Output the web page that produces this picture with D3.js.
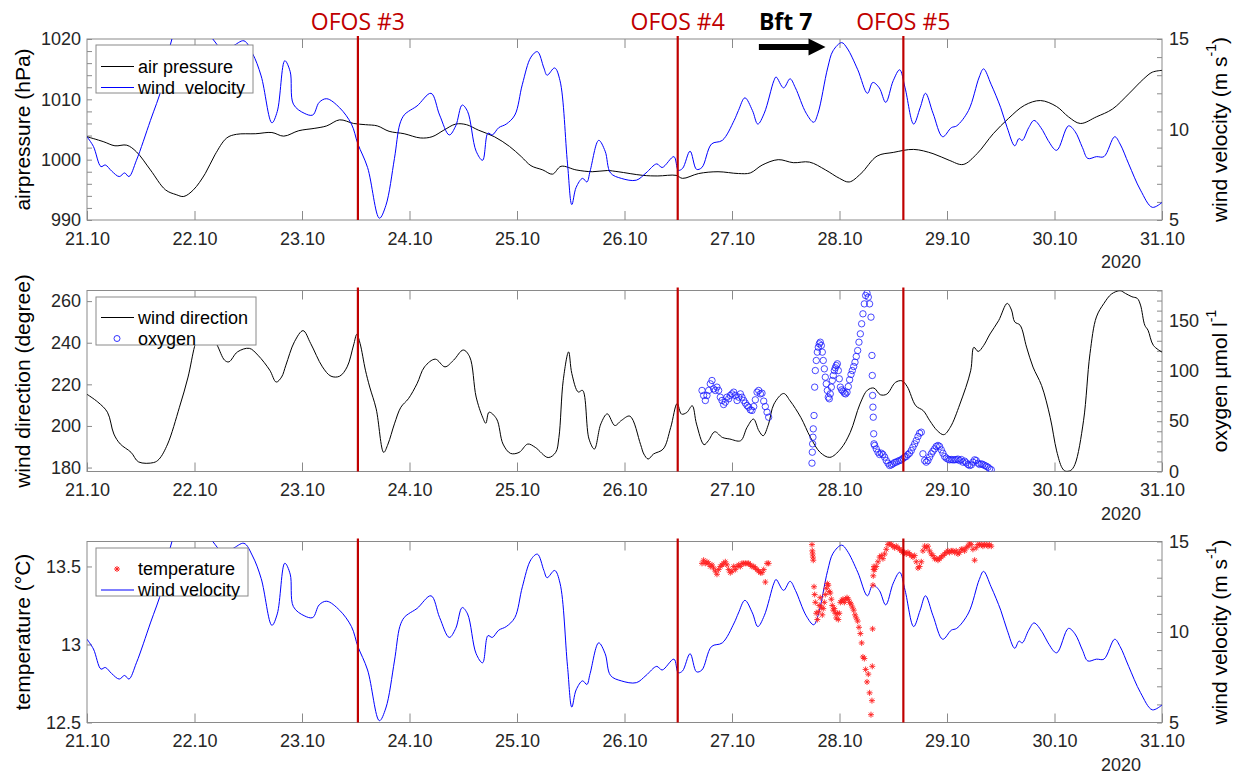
<!DOCTYPE html>
<html>
<head>
<meta charset="utf-8">
<script src="https://cdn.jsdelivr.net/npm/d3@7"></script>
<style>
body { margin: 0; background: #fff; }
</style>
</head>
<body>
<div id="my_viz"></div>
<script>
// x positions are days since 21.10.2020 00:00
const dayLabels = ["21.10", "22.10", "23.10", "24.10", "25.10", "26.10", "27.10", "28.10", "29.10", "30.10", "31.10"]
const ofosDay = [2.52, 5.495, 7.594]
const ofosLabel = ["OFOS #3", "OFOS #4", "OFOS #5"]
const bftDay = [6.25, 6.87]

// [day, hPa]
const airPressure = [[0,1003.8],[0.15,1003.0],[0.26,1002.3],[0.37,1002.4],[0.46,1001.3],[0.59,998.3],[0.73,995.0],[0.83,994.2],[0.90,993.9],[0.99,995.0],[1.10,997.7],[1.19,1000.8],[1.30,1003.6],[1.39,1004.2],[1.57,1004.3],[1.72,1004.5],[1.83,1003.9],[1.97,1004.8],[2.12,1005.2],[2.23,1005.6],[2.35,1006.6],[2.48,1006.0],[2.59,1005.8],[2.70,1005.6],[2.81,1004.7],[2.95,1004.3],[3.10,1003.6],[3.21,1003.8],[3.32,1004.9],[3.43,1005.9],[3.53,1005.8],[3.64,1004.9],[3.79,1003.8],[3.93,1002.2],[4.04,1000.5],[4.13,999.0],[4.24,998.3],[4.33,997.6],[4.41,998.9],[4.55,998.3],[4.70,998.0],[4.84,998.2],[4.94,998.0],[5.17,997.4],[5.31,997.3],[5.48,997.4],[5.54,996.9],[5.69,997.7],[5.87,998.0],[6.06,997.7],[6.17,997.8],[6.28,999.1],[6.43,1000.0],[6.57,999.5],[6.72,999.6],[6.87,998.3],[7.00,996.9],[7.09,996.3],[7.20,997.7],[7.35,1000.6],[7.50,1001.2],[7.69,1001.7],[7.87,1001.0],[8.02,999.9],[8.15,999.2],[8.28,1001.0],[8.43,1004.3],[8.57,1006.8],[8.72,1009.0],[8.87,1009.8],[9.02,1008.8],[9.13,1007.1],[9.24,1006.0],[9.39,1007.1],[9.54,1008.4],[9.69,1010.9],[9.83,1013.4],[9.91,1014.5],[10.0,1014.8]]

// [day, m/s]
const windVelocity = [[0,9.6],[0.06,9.06],[0.13,7.95],[0.17,8.04],[0.23,7.7],[0.30,7.4],[0.35,7.6],[0.39,7.4],[0.46,8.3],[0.59,10.5],[0.70,12.4],[0.79,15.0],[0.95,16.8],[1.17,15.0],[1.25,14.5],[1.35,14.6],[1.46,14.9],[1.54,14.2],[1.62,12.96],[1.72,10.37],[1.77,11.0],[1.84,13.8],[1.89,13.2],[1.92,11.4],[2.02,10.9],[2.10,10.8],[2.16,11.5],[2.23,11.7],[2.35,11.2],[2.46,10.3],[2.52,9.2],[2.61,7.9],[2.72,5.1],[2.78,5.8],[2.86,8.4],[2.91,10.3],[2.95,10.8],[2.99,11.0],[3.07,11.3],[3.20,12.0],[3.28,10.8],[3.37,9.7],[3.43,10.2],[3.49,11.35],[3.54,11.0],[3.62,8.8],[3.68,8.3],[3.73,9.8],[3.77,9.7],[3.83,10.1],[3.90,10.3],[3.98,10.8],[4.05,12.5],[4.13,14.0],[4.19,14.3],[4.25,13.4],[4.28,13.0],[4.35,13.4],[4.40,12.7],[4.47,8.1],[4.51,5.85],[4.55,6.8],[4.61,7.3],[4.65,7.1],[4.68,7.7],[4.76,9.4],[4.82,8.8],[4.87,7.6],[4.97,7.3],[5.11,7.2],[5.20,7.6],[5.30,8.1],[5.35,7.9],[5.46,8.5],[5.50,7.75],[5.54,7.85],[5.61,8.8],[5.67,7.8],[5.72,7.9],[5.81,9.2],[5.91,9.4],[6.02,10.5],[6.06,11.05],[6.12,11.75],[6.19,11.05],[6.24,10.3],[6.30,10.9],[6.39,12.7],[6.41,12.9],[6.48,12.3],[6.54,12.8],[6.59,12.3],[6.69,10.9],[6.76,10.4],[6.80,10.9],[6.89,13.4],[6.94,14.35],[7.02,14.8],[7.07,14.5],[7.17,13.3],[7.26,12.0],[7.31,12.6],[7.37,12.3],[7.43,11.5],[7.50,12.7],[7.56,13.3],[7.61,12.3],[7.69,10.3],[7.75,11.2],[7.80,12.0],[7.87,10.9],[7.96,9.6],[8.04,10.1],[8.09,10.2],[8.20,11.05],[8.30,12.9],[8.34,13.35],[8.41,12.5],[8.50,11.2],[8.56,10.1],[8.63,9.1],[8.67,9.5],[8.70,9.4],[8.76,10.1],[8.81,10.5],[8.89,9.95],[8.94,9.4],[9.02,8.85],[9.13,10.2],[9.19,9.9],[9.26,9.0],[9.31,8.4],[9.39,8.5],[9.46,8.5],[9.56,9.6],[9.61,9.2],[9.69,8.1],[9.80,6.65],[9.91,5.7],[10.0,5.97]]

// [day, degree]
const windDirection = [[0,215.2],[0.10,211.5],[0.19,206.6],[0.25,196.1],[0.31,191.3],[0.41,187.3],[0.48,182.7],[0.62,182.4],[0.67,184.0],[0.75,191.3],[0.86,209.0],[0.94,223.5],[1.00,238.1],[1.03,242.9],[1.08,247],[1.15,244],[1.21,238.9],[1.28,231.6],[1.32,230.8],[1.40,235.6],[1.51,237.3],[1.59,234.0],[1.70,226.8],[1.76,221.1],[1.81,223.5],[1.85,229.2],[1.93,240.5],[2.01,245.8],[2.08,239.7],[2.19,228.4],[2.27,223.9],[2.35,223.9],[2.42,228.4],[2.48,238.9],[2.51,244.0],[2.54,239.7],[2.59,226.8],[2.63,218.7],[2.69,208.2],[2.76,187.3],[2.80,191.3],[2.86,201.0],[2.92,209.0],[2.99,213.1],[3.07,220.3],[3.14,228.4],[3.24,232.1],[3.33,228.4],[3.41,231.6],[3.50,236.5],[3.56,233.2],[3.62,213.9],[3.68,204.2],[3.71,201.3],[3.74,206.6],[3.81,203.4],[3.87,191.3],[3.94,186.8],[4.02,187.3],[4.10,191.3],[4.17,189.7],[4.29,184.8],[4.36,187.3],[4.39,194.5],[4.43,221.9],[4.48,235.6],[4.51,225.2],[4.57,216.3],[4.61,217.1],[4.67,193.7],[4.72,188.9],[4.78,201.0],[4.84,205.8],[4.91,200.2],[4.97,202.6],[5.05,204.7],[5.15,191.0],[5.18,186.5],[5.22,184.1],[5.27,186.5],[5.36,188.9],[5.43,199.3],[5.49,210.8],[5.53,205.7],[5.58,206.5],[5.63,209.7],[5.67,200.9],[5.74,191.0],[5.78,192.9],[5.84,197.2],[5.91,194.5],[5.98,193.7],[6.08,192.9],[6.14,199.3],[6.20,203.3],[6.25,197.7],[6.29,195.3],[6.34,200.9],[6.39,210.5],[6.48,215.6],[6.54,212.1],[6.64,204.1],[6.73,194.5],[6.82,187.3],[6.91,184.9],[7.01,188.9],[7.10,196.9],[7.19,210.5],[7.26,217.2],[7.32,218.2],[7.38,215.0],[7.44,215.3],[7.52,220.9],[7.58,221.7],[7.63,218.9],[7.71,209.7],[7.78,207.3],[7.84,202.5],[7.91,197.7],[7.97,195.8],[8.03,199.3],[8.12,210.5],[8.22,226.5],[8.25,237.8],[8.29,235.8],[8.34,238.6],[8.40,244.2],[8.48,250.6],[8.56,258.9],[8.60,255.7],[8.63,250.0],[8.68,248.4],[8.74,237.9],[8.80,228.3],[8.88,219.4],[8.96,204.1],[9.02,188.0],[9.07,179.9],[9.10,178.3],[9.15,178.6],[9.19,181.5],[9.27,202.5],[9.33,234.7],[9.39,252.4],[9.46,258.9],[9.53,263.4],[9.61,265.0],[9.66,263.7],[9.72,262.1],[9.77,261.3],[9.80,258.1],[9.84,248.4],[9.87,246.0],[9.92,238.7],[10.0,235.5]]

// OFOS sensor samples: [day, oxygen µmol/l, temperature °C]
const sensorSamples = [
[5.721,80.6,13.52],[5.736,75.6,13.54],[5.752,70.6,13.52],[5.767,75.6,13.53],[5.783,80.6,13.52],[5.798,87.2,13.50],[5.814,90.5,13.51],[5.829,82.2,13.49],[5.845,80.6,13.47],[5.860,83.9,13.45],[5.876,80.6,13.48],[5.891,73.9,13.50],[5.907,70.6,13.51],[5.922,66.6,13.52],[5.938,69.0,13.53],[5.953,73.9,13.51],[5.969,72.3,13.48],[5.984,75.6,13.46],[6.000,77.2,13.47],[6.016,78.9,13.50],[6.031,75.6,13.48],[6.047,70.6,13.50],[6.062,73.9,13.51],[6.078,77.2,13.50],[6.093,73.9,13.52],[6.109,70.6,13.52],[6.124,68.0,13.52],[6.140,65.6,13.52],[6.155,64.0,13.52],[6.171,61.3,13.51],[6.186,60.7,13.50],[6.202,64.6,13.50],[6.217,71.3,13.49],[6.233,78.9,13.48],[6.248,80.6,13.47],[6.264,77.2,13.46],[6.279,77.9,13.46],[6.295,70.0,13.48],[6.310,64.6,13.40],[6.326,59.0,13.52],[6.341,54.0,13.52],
[6.744,8.3,13.64],[6.747,19.2,13.60],[6.750,27.5,13.58],[6.753,34.1,13.56],[6.756,42.4,13.54],[6.763,55.7,13.37],[6.769,83.9,13.32],[6.775,100.4,13.27],[6.784,110.4,13.20],[6.794,118.7,13.16],[6.803,123.6,13.21],[6.812,127.0,13.25],[6.821,128.6,13.30],[6.831,125.3,13.24],[6.840,118.7,13.19],[6.849,110.4,13.23],[6.859,102.1,13.27],[6.868,93.8,13.32],[6.877,87.2,13.36],[6.887,80.6,13.39],[6.896,73.9,13.38],[6.905,72.3,13.34],[6.914,77.2,13.33],[6.924,83.9,13.29],[6.933,90.5,13.25],[6.942,95.5,13.22],[6.952,100.4,13.23],[6.961,103.1,13.20],[6.970,105.4,13.17],[6.980,107.1,13.20],[6.989,100.4,13.16],[6.998,92.2,13.20],[7.008,83.9,13.27],[7.020,81.2,13.28],[7.032,79.9,13.29],[7.045,77.9,13.27],[7.057,77.2,13.29],[7.070,78.9,13.30],[7.082,84.5,13.29],[7.094,91.2,13.27],[7.107,96.5,13.26],[7.119,100.4,13.24],[7.132,104.4,13.22],[7.144,108.7,13.19],[7.156,114.4,13.17],[7.169,120.3,13.15],[7.181,128.6,13.11],[7.194,136.9,13.07],[7.206,146.9,13.01],[7.218,156.8,12.92],[7.231,166.7,12.91],[7.243,175.0,12.84],[7.256,177.4,12.76],[7.268,173.4,12.81],[7.280,166.7,12.69],[7.293,153.5,12.55],[7.302,115.4,12.64],[7.305,95.5,12.86],[7.308,75.6,13.10],[7.311,64.0,13.38],[7.314,54.0,13.44],[7.318,37.5,13.48],[7.321,27.5,13.50],
[7.327,25.9,13.48],[7.342,22.5,13.50],[7.358,19.2,13.53],[7.373,16.9,13.56],[7.389,18.2,13.57],[7.404,16.9,13.55],[7.420,14.3,13.58],[7.435,10.9,13.61],[7.451,8.3,13.64],[7.466,6.0,13.65],[7.482,6.6,13.64],[7.497,7.6,13.63],[7.513,9.0,13.62],[7.528,9.3,13.63],[7.544,10.3,13.62],[7.559,10.9,13.61],[7.575,11.6,13.60],[7.590,12.9,13.59],[7.606,14.3,13.59],[7.621,14.9,13.58],[7.637,16.9,13.59],[7.652,18.2,13.58],[7.668,20.9,13.57],[7.683,24.2,13.56],[7.699,27.5,13.57],[7.714,30.8,13.53],[7.730,34.8,13.49],[7.745,38.1,13.50],[7.761,39.1,13.53],[7.776,17.6,13.60],[7.792,10.9,13.63],[7.807,9.3,13.62],[7.823,10.9,13.63],[7.838,14.3,13.60],[7.854,17.6,13.58],[7.869,20.2,13.57],[7.885,22.5,13.55],[7.900,24.9,13.55],[7.916,25.9,13.54],[7.931,24.9,13.55],[7.947,21.5,13.56],[7.962,18.2,13.57],[7.978,14.9,13.58],[7.993,13.3,13.59],[8.009,12.3,13.60],[8.024,11.6,13.59],[8.040,11.9,13.60],[8.055,11.6,13.60],[8.071,11.6,13.59],[8.086,11.9,13.60],[8.102,12.3,13.58],[8.117,10.9,13.59],[8.133,11.9,13.61],[8.148,9.3,13.61],[8.164,10.3,13.60],[8.179,8.6,13.62],[8.195,7.0,13.63],[8.210,6.0,13.65],[8.226,6.6,13.64],[8.241,9.3,13.61],[8.257,11.6,13.54],[8.272,10.9,13.62],[8.288,8.3,13.64],[8.303,7.0,13.64],[8.319,7.6,13.64],[8.334,7.0,13.63],[8.350,6.0,13.64],[8.365,5.3,13.64],[8.381,4.3,13.63],[8.396,2.7,13.64],[8.412,1.7,13.63]
]

const width = 1242
const height = 778
const margin = {left: 87, right: 80}
const plotW = width - margin.left - margin.right
const panelH = 181
const panelTop = [39, 290.5, 541.5]
const font = "'Liberation Sans', Arial, Helvetica, sans-serif"
const frameColor = "#8a8a8a"
const textColor = "#262626"
const ofosRed = "#c00000"

var svg = d3.select("#my_viz")
.append("svg")
.attr("width", width)
.attr("height", height)
.style("font-family", font)

var x = d3.scaleLinear().domain([0, 10]).range([0, plotW])

var yPress = d3.scaleLinear().domain([990, 1020]).range([panelH, 0])
var yWind = d3.scaleLinear().domain([5, 15]).range([panelH, 0])
var yDir = d3.scaleLinear().domain([178.1, 265.1]).range([panelH, 0])
var yOxy = d3.scaleLinear().domain([0, 180]).range([panelH, 0])
var yTemp = d3.scaleLinear().domain([12.5, 13.66]).range([panelH, 0])

// smooth line through the read points
function lineOf(yScale) {
	return d3.line()
	.x((d) => x(d[0]))
	.y((d) => yScale(d[1]))
	.curve(d3.curveCatmullRom.alpha(0.5))
}

function styleAxis(a) {
	a.select(".domain").remove()
	a.selectAll("line").attr("stroke", frameColor)
	a.selectAll("text").attr("fill", textColor)
	a.attr("font-size", 18).attr("font-family", font)
}

// frame, ticks, labels of one panel
function drawFrame(g, idx, yLeft, leftTicks, leftFmt, yRight, rightTicks, rightFmt) {
	g.append("clipPath").attr("id", "clip" + idx)
	.append("rect").attr("width", plotW).attr("height", panelH)

	g.append("rect")
	.attr("width", plotW)
	.attr("height", panelH)
	.attr("fill", "none")
	.attr("stroke", frameColor)

	var xb = g.append("g")
	.attr("transform", "translate(0," + panelH + ")")
	.call(d3.axisBottom(x).tickValues(d3.range(0, 11)).tickFormat((d) => dayLabels[d]).tickSize(-9).tickPadding(12))
	styleAxis(xb)
	var xt = g.append("g")
	.call(d3.axisTop(x).tickValues(d3.range(1, 10)).tickFormat("").tickSize(-9))
	styleAxis(xt)

	var yl = g.append("g")
	.call(d3.axisLeft(yLeft).tickValues(leftTicks).tickFormat(leftFmt).tickSize(-5).tickPadding(6))
	styleAxis(yl)
	var yr = g.append("g")
	.attr("transform", "translate(" + plotW + ",0)")
	.call(d3.axisRight(yRight).tickValues(rightTicks).tickFormat(rightFmt).tickSize(-5).tickPadding(7))
	styleAxis(yr)

	g.append("text")
	.attr("x", width - 121 - margin.left)
	.attr("y", panelH + 42)
	.attr("text-anchor", "middle")
	.attr("dominant-baseline", "central")
	.attr("font-size", 18)
	.attr("fill", textColor)
	.text("2020")
}

function leftTitle(g, txt) {
	g.append("text")
	.attr("transform", "translate(" + (22 - margin.left) + "," + panelH / 2 + ") rotate(-90)")
	.attr("text-anchor", "middle")
	.attr("dominant-baseline", "central")
	.attr("font-size", 21)
	.attr("fill", "#000")
	.text(txt)
}

function rightTitle(g, txt) {
	var t = g.append("text")
	.attr("transform", "translate(" + (1219 - margin.left) + "," + panelH / 2 + ") rotate(-90)")
	.attr("text-anchor", "middle")
	.attr("dominant-baseline", "central")
	.attr("font-size", 21)
	.attr("fill", "#000")
	t.append("tspan").text(txt)
	t.append("tspan").attr("baseline-shift", "super").attr("font-size", 14).text("-1")
	if (txt.indexOf("(") >= 0) t.append("tspan").text(")")
}

function ofosLines(g, idx) {
	g.selectAll(".ofos" + idx)
	.data(ofosDay)
	.enter()
	.append("line")
	.attr("x1", (d) => x(d))
	.attr("x2", (d) => x(d))
	.attr("y1", -3)
	.attr("y2", panelH)
	.attr("stroke", ofosRed)
	.attr("stroke-width", 2.2)
}

var asterisk = "M-3,0H3M0,-3V3M-2.1,-2.1L2.1,2.1M-2.1,2.1L2.1,-2.1"

function drawLegend(g, box, items) {
	var lg = g.append("g").attr("transform", "translate(" + box.x + "," + box.y + ")")
	lg.append("rect")
	.attr("width", box.w)
	.attr("height", box.h)
	.attr("fill", "#fff")
	.attr("stroke", frameColor)
	items.forEach((it, i) => {
		var yy = box.row0 + i * 21
		if (it.type == "line") {
			lg.append("line")
			.attr("x1", 5).attr("x2", 38)
			.attr("y1", yy).attr("y2", yy)
			.attr("stroke", it.color)
			.attr("stroke-width", 1.1)
		} else if (it.type == "circle") {
			lg.append("circle")
			.attr("cx", 21).attr("cy", yy).attr("r", 3)
			.attr("fill", "none").attr("stroke", it.color).attr("stroke-width", 0.8)
		} else {
			lg.append("path")
			.attr("transform", "translate(21," + yy + ")")
			.attr("d", asterisk)
			.attr("stroke", it.color).attr("stroke-width", 1)
		}
		lg.append("text")
		.attr("x", 42)
		.attr("y", yy)
		.attr("dominant-baseline", "central")
		.attr("font-size", 18)
		.attr("fill", "#000")
		.style("white-space", "pre")
		.text(it.label)
	})
}

// Panel 1: air pressure and wind velocity
var g1 = svg.append("g").attr("transform", "translate(" + margin.left + "," + panelTop[0] + ")")
drawFrame(g1, 1, yPress, d3.range(990, 1021, 2), (d) => d % 10 == 0 ? d : "",
	yWind, d3.range(5, 16), (d) => d % 5 == 0 ? d : "")
leftTitle(g1, "airpressure (hPa)")
rightTitle(g1, "wind velocity (m s")

var plot1 = g1.append("g").attr("clip-path", "url(#clip1)")
plot1.append("path")
.attr("d", lineOf(yPress)(airPressure))
.attr("fill", "none")
.attr("stroke", "#000")
.attr("stroke-width", 1)
plot1.append("path")
.attr("d", lineOf(yWind)(windVelocity))
.attr("fill", "none")
.attr("stroke", "#0000ff")
.attr("stroke-width", 1)
ofosLines(g1, 1)

// OFOS labels above the first panel
g1.selectAll(".ofosLabel")
.data(ofosDay)
.enter()
.append("text")
.attr("x", (d) => x(d))
.attr("y", -18)
.attr("text-anchor", "middle")
.attr("dominant-baseline", "central")
.attr("font-family", "'Open Sans', sans-serif")
.attr("font-size", 23)
.attr("fill", ofosRed)
.text((d, i) => ofosLabel[i])

g1.append("text")
.attr("x", x(bftDay[0]))
.attr("y", -18)
.attr("dominant-baseline", "central")
.attr("font-family", "'Open Sans', sans-serif")
.attr("font-weight", "bold")
.attr("font-size", 23)
.attr("fill", "#000")
.text("Bft 7")

var ax0 = x(bftDay[0]), ax1 = x(bftDay[1]), ay = 8
g1.append("path")
.attr("d", d3.line()([[ax0, ay - 3], [ax1 - 17, ay - 3], [ax1 - 17, ay - 8.5], [ax1, ay], [ax1 - 17, ay + 8.5], [ax1 - 17, ay + 3], [ax0, ay + 3]]) + "Z")
.attr("fill", "#000")

drawLegend(g1, {x: 9, y: 6, w: 157, h: 48, row0: 21.5}, [
	{type: "line", color: "#000", label: "air pressure"},
	{type: "line", color: "#0000ff", label: "wind  velocity"}
])

// Panel 2: wind direction and oxygen
var g2 = svg.append("g").attr("transform", "translate(" + margin.left + "," + panelTop[1] + ")")
drawFrame(g2, 2, yDir, [180, 200, 220, 240, 260], (d) => d,
	yOxy, d3.range(0, 181, 10), (d) => d % 50 == 0 ? d : "")
leftTitle(g2, "wind direction (degree)")
rightTitle(g2, "oxygen µmol l")

var plot2 = g2.append("g").attr("clip-path", "url(#clip2)")
plot2.append("path")
.attr("d", lineOf(yDir)(windDirection))
.attr("fill", "none")
.attr("stroke", "#000")
.attr("stroke-width", 1)
ofosLines(g2, 2)
plot2.selectAll("circle.oxy")
.data(sensorSamples)
.enter()
.append("circle")
.attr("class", "oxy")
.attr("cx", (d) => x(d[0]))
.attr("cy", (d) => yOxy(d[1]))
.attr("r", 3.2)
.attr("fill", "none")
.attr("stroke", "#1a1aff")
.attr("stroke-width", 0.8)

drawLegend(g2, {x: 9, y: 6.5, w: 160, h: 48, row0: 20.5}, [
	{type: "line", color: "#000", label: "wind direction"},
	{type: "circle", color: "#0000ff", label: "oxygen"}
])

// Panel 3: temperature and wind velocity
var g3 = svg.append("g").attr("transform", "translate(" + margin.left + "," + panelTop[2] + ")")
drawFrame(g3, 3, yTemp, [12.5, 13, 13.5], (d) => String(d),
	yWind, d3.range(5, 16), (d) => d % 5 == 0 ? d : "")
leftTitle(g3, "temperature (°C)")
rightTitle(g3, "wind velocity (m s")

var plot3 = g3.append("g").attr("clip-path", "url(#clip3)")
plot3.append("path")
.attr("d", lineOf(yWind)(windVelocity))
.attr("fill", "none")
.attr("stroke", "#0000ff")
.attr("stroke-width", 1)
ofosLines(g3, 3)
plot3.selectAll("path.temp")
.data(sensorSamples)
.enter()
.append("path")
.attr("class", "temp")
.attr("transform", (d) => "translate(" + x(d[0]) + "," + yTemp(d[2]) + ")")
.attr("d", asterisk)
.attr("stroke", "#ff2020")
.attr("stroke-width", 0.9)

drawLegend(g3, {x: 9, y: 6.5, w: 152, h: 48, row0: 21}, [
	{type: "star", color: "#ff2020", label: "temperature"},
	{type: "line", color: "#0000ff", label: "wind velocity"}
])
</script>
</body>
</html>
